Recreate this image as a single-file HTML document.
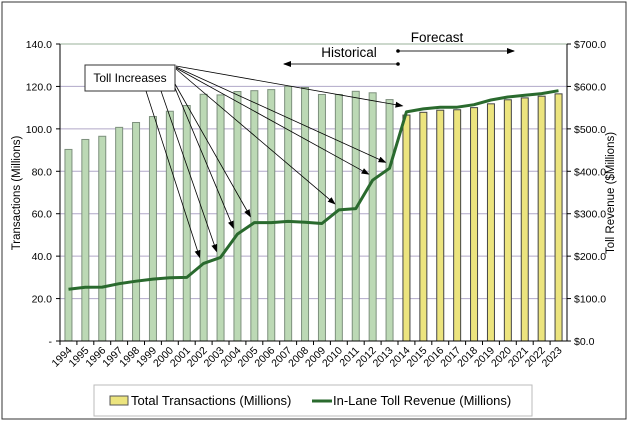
<!DOCTYPE html>
<html><head><meta charset="utf-8"><style>
body{margin:0;background:#fff;}
svg{display:block;font-family:"Liberation Sans",Arial,sans-serif;}
</style></head><body>
<svg id="chart" width="629" height="422" viewBox="0 0 629 422">
<defs>
<marker id="ah" markerWidth="8" markerHeight="6" refX="7" refY="3" orient="auto" markerUnits="userSpaceOnUse"><path d="M0,0 L8,3 L0,6 z" fill="#000"/></marker>
</defs>
<rect x="2" y="2" width="624" height="417" fill="#fff" stroke="#333" stroke-width="1"/>
<g id="grid"></g><g id="bars"></g><g id="axes"></g><g id="line"></g><g id="ann"></g>
</svg>
<script>
const years=["1994","1995","1996","1997","1998","1999","2000","2001","2002","2003","2004","2005","2006","2007","2008","2009","2010","2011","2012","2013","2014","2015","2016","2017","2018","2019","2020","2021","2022","2023"];
const transactions=[90.3,95,96.5,100.7,103,105.8,108.3,111,116.3,116,117.6,118,118.5,120,119.5,116.2,116.2,117.7,117,113.8,106.5,107.8,108.8,109,110,111.8,113.7,114.6,115.4,116.5];
const revenue=[122,126.5,127,135,141,146,149,150,183,197,252,279,279,282,280,277,309,312,379,407,540,547,551,551,557,568,575,579,583,590];
const leftTicks=["-","20.0","40.0","60.0","80.0","100.0","120.0","140.0"];
const rightTicks=["$0.0","$100.0","$200.0","$300.0","$400.0","$500.0","$600.0","$700.0"];
const tollIncreaseYears=["2002","2003","2004","2005","2010","2012","2013","2014"];
const forecastStart="2014";

const NS="http://www.w3.org/2000/svg";
const X0=60,X1=567,Y0=341,Y1=44;
const slot=(X1-X0)/years.length;
const xc=i=>X0+slot*(i+0.5);
const yL=v=>Y0-(v/140)*(Y0-Y1);
const yR=v=>Y0-(v/700)*(Y0-Y1);
function mk(tag,attrs,parent,text){const e=document.createElementNS(NS,tag);for(const k in attrs)e.setAttribute(k,attrs[k]);if(text!==undefined)e.textContent=text;document.getElementById(parent)?document.getElementById(parent).appendChild(e):parent.appendChild(e);return e;}

leftTicks.forEach((t,i)=>{
  const y=Y0-i*(Y0-Y1)/7;
  if(i>0){const g=mk('line',{x1:X0,x2:X1,y1:y,y2:y,stroke:i==7?'#9ab09a':'#b0a8c8','stroke-width':1},'grid');
  
  }
  const l=mk('text',{x:X0-8,y:y+4,'text-anchor':'end','font-size':10.5,fill:'#000'},'axes',t);
  
  
  const r=mk('text',{x:X1+7,y:y+4,'text-anchor':'start','font-size':10.5,fill:'#000'},'axes',rightTicks[i]);
  
  
  mk('line',{x1:X0-4,x2:X0,y1:y,y2:y,stroke:'#000'},'axes');
  mk('line',{x1:X1,x2:X1+4,y1:y,y2:y,stroke:'#000'},'axes');
});
const fIdx=years.indexOf(forecastStart);
years.forEach((yr,i)=>{
  const v=transactions[i],y=yL(v);
  const b=mk('rect',{x:xc(i)-3.5,y:y,width:7,height:Y0-y,fill:i>=fIdx?'#ece47e':'#bcd9b5',stroke:i>=fIdx?'#444':'#7d907d','stroke-width':1},'bars');
  
  
  const t=mk('text',{transform:`translate(${xc(i)+4},${Y0+10}) rotate(-45)`,'text-anchor':'end','font-size':10.5,fill:'#000'},'axes',yr);
  
  
  mk('line',{x1:X0+slot*i,x2:X0+slot*i,y1:Y0,y2:Y0+4,stroke:'#000'},'axes');
});
mk('line',{x1:X0,x2:X0,y1:Y1,y2:Y0,stroke:'#000'},'axes');
mk('line',{x1:X1,x2:X1,y1:Y1,y2:Y0,stroke:'#000'},'axes');
mk('line',{x1:X0,x2:X1,y1:Y0,y2:Y0,stroke:'#000'},'axes');
const yt=mk('text',{transform:'translate(20,193) rotate(-90)','text-anchor':'middle','font-size':11.5},'axes','Transactions (Millions)');


const yt2=mk('text',{transform:'translate(614,193) rotate(-90)','text-anchor':'middle','font-size':11.5},'axes','Toll Revenue ($Millions)');


const pts=revenue.map((v,i)=>xc(i).toFixed(1)+','+yR(v).toFixed(1)).join(' ');
const pl=mk('polyline',{points:pts,fill:'none',stroke:'#2a6a2e','stroke-width':3,'stroke-linejoin':'round'},'line');


const box=mk('rect',{x:85,y:65,width:90,height:26,fill:'#fff',stroke:'#333'},'ann');


const bt=mk('text',{x:130,y:82,'text-anchor':'middle','font-size':12},'ann','Toll Increases');


const starts=[[146,91],[161,91],[175,88],[175,84],[176,69],[176,68],[176,67],[176,66]];
tollIncreaseYears.forEach((yr,k)=>{
  const i=years.indexOf(yr);
  const ex=xc(i)-4, ey=yR(revenue[i])-6;
  const a=mk('line',{x1:starts[k][0],y1:starts[k][1],x2:ex,y2:ey,stroke:'#000','stroke-width':0.8,'marker-end':'url(#ah)'},'ann');
  
  
});
const ha=mk('line',{x1:398,y1:64,x2:284,y2:64,stroke:'#555','stroke-width':1.3,'marker-end':'url(#ah)'},'ann');


mk('circle',{cx:398,cy:64,r:1.8,fill:'#000'},'ann');
const ht=mk('text',{x:349,y:57,'text-anchor':'middle','font-size':13.5},'ann','Historical');


const fa=mk('line',{x1:398,y1:51,x2:514,y2:51,stroke:'#555','stroke-width':1.3,'marker-end':'url(#ah)'},'ann');


mk('circle',{cx:398,cy:51,r:1.8,fill:'#000'},'ann');
const ft=mk('text',{x:437,y:42,'text-anchor':'middle','font-size':13.5},'ann','Forecast');


const lg=mk('g',{},'ann');


mk('rect',{x:94,y:385,width:438,height:31,fill:'#fff',stroke:'#bbb'},lg);
const l1=mk('rect',{x:110,y:396,width:18,height:9,fill:'#ece47e',stroke:'#555'},lg);


const l1t=mk('text',{x:131,y:405,'font-size':13},lg,'Total Transactions (Millions)');


const l2=mk('line',{x1:312,x2:332,y1:401,y2:401,stroke:'#2a6a2e','stroke-width':3},lg);


const l2t=mk('text',{x:333,y:405,'font-size':13},lg,'In-Lane Toll Revenue (Millions)');


</script>
</body></html>
